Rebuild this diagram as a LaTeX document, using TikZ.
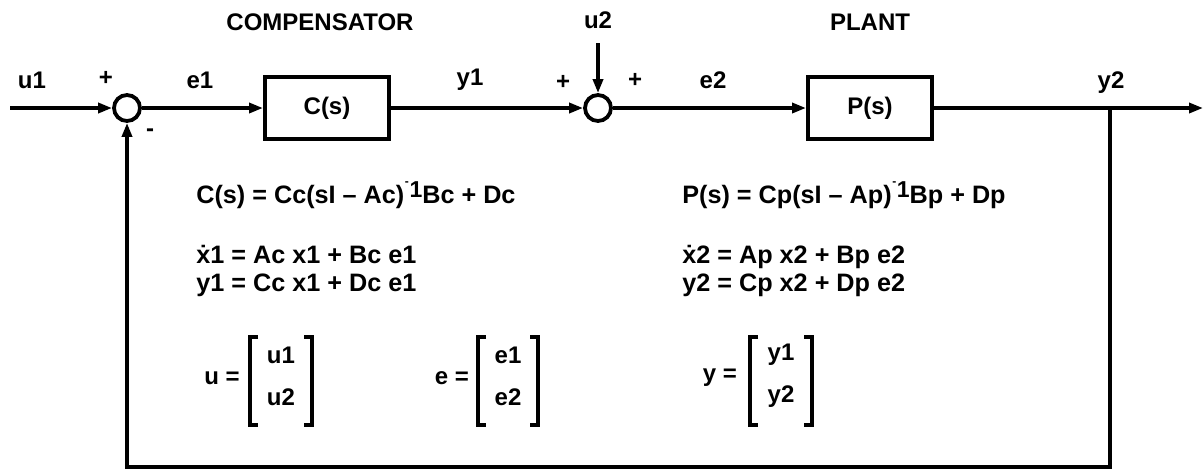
\documentclass[tikz,border=0pt]{standalone}
\usepackage{fontspec}
\setmainfont{Liberation Sans}
\usetikzlibrary{arrows.meta}
\newcommand\minusone{\kern0.3pt\raisebox{1.35ex}{\fontsize{6}{6}\selectfont -}\kern0.3pt\raisebox{0.22em}{\fontsize{11.5}{11.5}\selectfont 1}}
\begin{document}
\begin{tikzpicture}[x=0.5pt,y=-0.5pt,
  every node/.style={font=\fontsize{12}{14}\selectfont\bfseries, inner sep=0pt},
  wire/.style={line width=1.7pt},
  arr/.style={wire,-{Triangle[length=7pt,width=5pt]}},
  block/.style={draw,line width=2pt,minimum width=62pt,minimum height=31pt},
  sumj/.style={draw,circle,line width=1.9pt,minimum size=13pt},
  eqn/.style={anchor=base west,font=\fontsize{12.6}{14}\selectfont\bfseries},
  brak/.style={line width=2pt}]
\useasboundingbox (0,0) rectangle (1204,473);

% blocks and junctions
\node[sumj] (s1) at (127,108) {};
\node[sumj] (s2) at (598,108) {};
\node[block] (C) at (327,108) {C(s)};
\node[block] (P) at (870,108) {P(s)};
\coordinate (in) at (10,108);
\coordinate (out) at (1203,108);
\coordinate (tap) at (1110,108);
\coordinate (br) at (1110,467);
\coordinate (bl) at (127,467);
\coordinate (u2top) at (598,43);

% connectors
\draw[arr] (in) -- (s1);
\draw[arr] (s1) -- (C);
\draw[arr] (C) -- (s2);
\draw[arr] (s2) -- (P);
\draw[arr] (P) -- (out);
\draw[arr] (u2top) -- (s2);
\draw[arr] (tap) -- (br) -- (bl) -- (s1.south);

% titles
\node (tcomp) at (320,22) {COMPENSATOR};
\node (tplant) at (870,22) {PLANT};
\node (lu2) at (598,20) {u2};

% signal labels
\node (lu1) at (32,80) {u1};
\node (p1) at (106,78) {+};
\node (le1) at (200,80) {e1};
\node (ly1) at (470,80) {y1};
\node (p2) at (563,82) {+};
\node (p3) at (635,80) {+};
\node (le2) at (713,80) {e2};
\node (ly2) at (1111,83) {y2};
\node (m1) at (150,133) {-};

% equations
\node[eqn] (eqC) at (196,203) {C(s) = Cc(sI – Ac)\minusone Bc + Dc};
\node[eqn] (eqx1) at (196,263) {\.x1 = Ac x1 + Bc e1};
\node[eqn] (eqy1) at (196,291) {y1 = Cc x1 + Dc e1};
\node[eqn] (eqP) at (682,203) {P(s) = Cp(sI – Ap)\minusone Bp + Dp};
\node[eqn] (eqx2) at (682,263) {\.x2 = Ap x2 + Bp e2};
\node[eqn] (eqy2) at (682,291) {y2 = Cp x2 + Dp e2};

% vectors
\node (ueq) at (222,378) {u =};
\node (u1v) at (281,355) {u1};
\node (u2v) at (281,397) {u2};
\draw[brak] (258,337) -- (250,337) -- (250,425) -- (258,425);
\draw[brak] (304,337) -- (312,337) -- (312,425) -- (304,425);

\node (eeq) at (452,378) {e =};
\node (e1v) at (508,355) {e1};
\node (e2v) at (508,397) {e2};
\draw[brak] (486,337) -- (478,337) -- (478,425) -- (486,425);
\draw[brak] (530,337) -- (538,337) -- (538,425) -- (530,425);

\node (yeq) at (720,378) {y =};
\node (y1v) at (781,355) {y1};
\node (y2v) at (781,397) {y2};
\draw[brak] (758,337) -- (750,337) -- (750,425) -- (758,425);
\draw[brak] (804,337) -- (812,337) -- (812,425) -- (804,425);
\end{tikzpicture}
\end{document}
